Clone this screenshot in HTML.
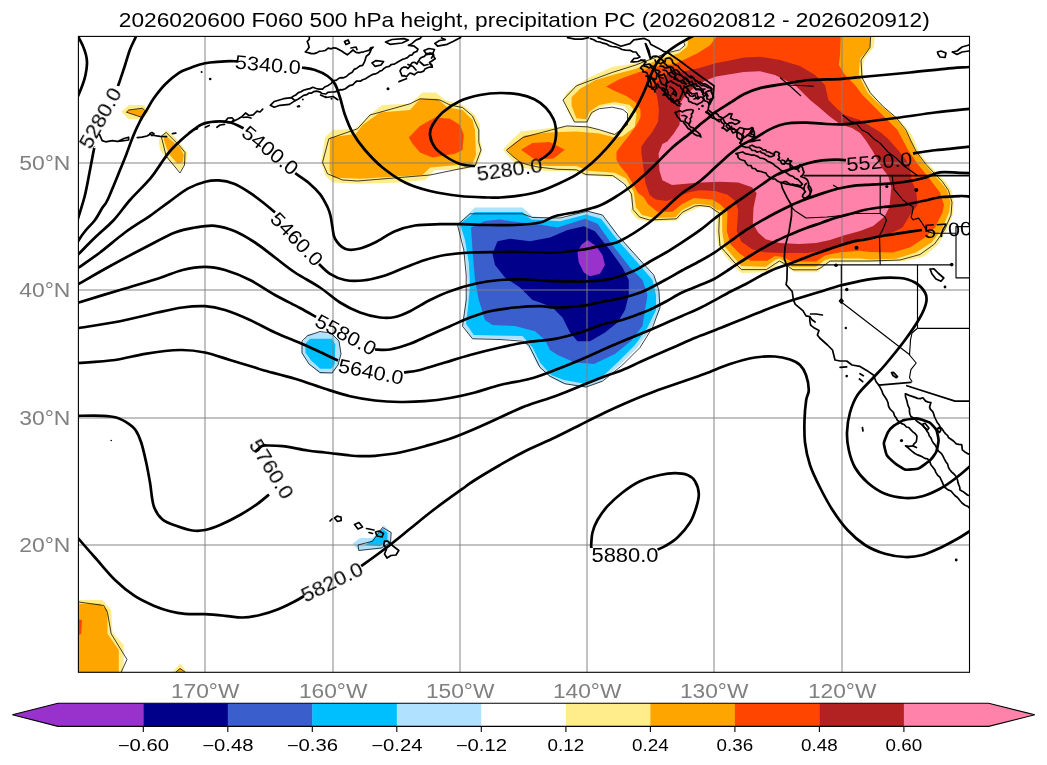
<!DOCTYPE html>
<html><head><meta charset="utf-8"><title>500 hPa height, precipitation PC</title>
<style>html,body{margin:0;padding:0;background:#fff}svg{display:block}text{font-family:"Liberation Sans",sans-serif}</style></head><body>
<svg width="1047" height="765" viewBox="0 0 1047 765">
<rect width="1047" height="765" fill="#fff"/>
<defs><clipPath id="c"><rect x="78.4" y="36.4" width="891.1" height="635.9"/></clipPath></defs>
<g clip-path="url(#c)">
<g stroke="none">
<path d="M121.2,111.8 L128.8,105 L143.8,105 L148.8,111.8 L142.5,119.2 L128.8,119.2Z" fill="#ffec8b"/>
<path d="M126.4,112.2 L128.7,110 L142.5,108.2 L145,110.8 L141.3,117.2Z" fill="#ffa500"/>
<path d="M158.8,140 L166.2,130 L175,137.5 L187.5,152.5 L186.2,162.5 L180,171 L170,162.5 L160,150Z" fill="#ffec8b"/>
<path d="M165,135 L180,147.5 L183.8,155 L182.5,162.5 L177.5,163.8 L168.8,153.8 L163.8,140Z" fill="#ffa500"/>
<path d="M321,162.5 L325,137.5 L332.5,130 L355,128.8 L372.5,112.5 L382.5,105 L410,103.8 L422.5,92.5 L436,92.5 L445,100 L462.5,105 L475,115 L480,125 L480,140 L482.5,150 L477.5,165 L462.5,170 L435,170 L425,180 L400,182.5 L360,183.8 L332.5,182.5 L325,175Z" fill="#ffec8b"/>
<path d="M330,137.5 L356,133.8 L362.5,125 L380,112.5 L410,110 L420,98.8 L437.5,98.8 L447.5,107.5 L462.5,110 L472.5,120 L475,130 L476,155 L472.5,163.8 L430,167.5 L422.5,175 L360,178.8 L332.5,177.5 L329.5,170Z" fill="#ffa500"/>
<path d="M408.8,137.5 L420,126 L435,117.5 L450,118.8 L460,125 L463.8,135 L462.5,150 L455,153.8 L432.5,157.5 L420,152.5 L412.5,143.8Z" fill="#ff4500"/>
<path d="M589.8,77.2 L612.7,66.7 L633.7,63.8 L650,58.5 L667.3,53.5 L679.5,50.6 L685,45 L685.6,30 L876,30 L875,37 L873.8,47.5 L865,57.5 L862.5,67.5 L863.8,80 L872.5,95 L885,107.5 L900,120 L910,132.5 L913.6,138.6 L918,150 L923,157 L929.2,164.5 L937,173 L945.6,181.8 L951.6,190.4 L954,201 L953,214.5 L947,229.8 L937.5,245 L924,256.5 L904,261.3 L877,262.3 L860,262.2 L830,262.2 L823.9,266 L817.7,272.2 L794.8,272.2 L785.6,266 L779.5,263 L776.5,266 L767.3,272.2 L741.3,272.9 L736.7,269.1 L726,256.9 L718.3,246.2 L716.1,230.9 L716.8,214.1 L715.3,211.6 L709.2,207.8 L700,207 L696.4,208.5 L683,214.3 L677.3,220.5 L648.7,222 L637,219 L630.5,211.5 L631.8,205.7 L629.9,193.7 L624.2,182.3 L614.6,177 L584,175.5 L576.4,171.5 L547.8,171 L522.9,168 L511.5,159.8 L502.9,149.8 L511.5,140.2 L521,131.6 L543.9,128.8 L566.9,125.9 L587.9,125.9 L599.3,129.7 L614.6,133.5 L626.8,124.5 L628.3,112.6 L624.5,106.5 L612.5,104.4 L599.3,107.4 L590.7,115.4 L587.9,122 L573.5,122 L567.8,111.6 L563,100 L565.9,93.4 L576.4,84.8Z" fill="#ffec8b"/>
<path d="M595.5,80 L615.3,74.3 L635.2,69 L650.5,62.9 L665.7,57.5 L679.5,52.9 L687.2,46.8 L690.2,30 L870,30 L870,47.5 L860,58.8 L858.8,75 L867.5,92.5 L880,105 L895,117.5 L905,130 L909.8,138.6 L915,150 L924.9,164.5 L933,173.5 L940.4,181.8 L947,190 L950.5,202.5 L949,212.5 L941.5,230 L931.5,242.5 L916,252.5 L896,258.8 L870,259.5 L860,258.4 L830,258.4 L823.9,260.7 L816.2,266.8 L791.7,266.8 L787.2,263 L779.5,258.4 L774.9,259.9 L765.7,266.8 L741.3,266 L732.1,255.3 L724.5,246.2 L722.2,230.9 L722.2,211 L716.8,210.1 L710.7,205.5 L700,204 L694,204.2 L681.7,210.3 L675.6,217.2 L654.2,217.9 L642,214.9 L635.9,207.2 L633.7,191.8 L626,178.4 L614.6,172.7 L587.9,170.8 L576.4,166 L547.8,166 L524.8,164.1 L514.3,157.4 L506.7,149.8 L514.3,143.1 L524.8,135.5 L547.8,132.6 L576.4,131.6 L599.3,133.5 L614.6,137.4 L622.3,136.4 L634.7,126.9 L636.6,113.5 L629.9,104.9 L614.6,102 L599.3,104.9 L589.8,111.6 L586,119.2 L576.4,118.3 L571.6,105.8 L571.6,97.2 L580.2,88.7Z" fill="#ffa500"/>
<path d="M606.1,86.6 L619.9,78.9 L635.2,73.6 L650.5,68.2 L664.2,64.4 L673.4,64.4 L685.6,59 L697.9,52.9 L710.1,45.3 L716.2,36.9 L716.2,30 L841,30 L840,55 L838.8,65 L845,75 L855,85 L862.5,95 L875,107.5 L887.5,120 L897.5,130 L902,138.6 L908,150 L918,164.5 L925,173 L931.8,181.8 L940,192.5 L944,205 L942.5,212.5 L935,227.5 L925,237.5 L910,247.5 L892.5,252.5 L870,252 L860,250.7 L840.7,252.3 L825.4,255.3 L816.2,261.5 L791.7,261.5 L782.6,256.9 L774.9,256.1 L767.3,260.7 L750.5,260.7 L739.8,253.8 L730.6,244.6 L726.8,230.9 L727.5,211.6 L719.9,204 L712.2,199.4 L700,198.6 L694,198.1 L681.7,204.2 L672.6,211.8 L657.3,211.8 L648.1,204.2 L643.5,197 L638,193 L633,184 L627,174 L620,166 L616.5,160 L616.5,151.7 L622.3,144 L629.1,135.5 L636.7,124.8 L640.5,117.2 L640.5,109.5 L635.2,101.9 L626,95.7 L615.3,91.2Z" fill="#ff4500"/>
<path d="M521,149.8 L532.5,143.1 L549.7,142.1 L564.9,149.8 L553.5,158.4 L534.4,159.3Z" fill="#ff4500"/>
<path d="M641.3,146.7 L645.9,140.1 L652,132.4 L658.1,121.7 L658.9,109.5 L657.3,97.3 L653.5,85 L662,78 L673.4,71.3 L681,72 L691.7,69.8 L704,66.7 L716.2,62.9 L730,60.6 L743.7,57.5 L760,56.8 L780,60 L800,66 L815,75 L825,85 L828.4,100 L837.6,109.2 L845.3,115.3 L860,119.9 L870,126 L880,132 L887.8,138.6 L898,150 L906,160 L909.3,164.5 L911,175 L911.9,181.8 L916.2,190.4 L917.5,205 L910,215 L902.5,227.5 L887.5,235 L870,237 L860,238.5 L852.9,240.8 L837.6,246.2 L822.3,250.7 L807,253 L785.6,253 L764.2,252.3 L752,249.2 L741.3,241.6 L736.7,230.9 L738.2,210.1 L735.2,200.9 L727.5,194.8 L715.3,191 L700,190.2 L690,192 L681.7,195 L675.6,198.1 L666.5,201.1 L655.7,199.6 L649.6,195 L645.2,182.3 L643.3,167 L641.4,153.6Z" fill="#b22222"/>
<path d="M679.6,104 L684.1,97.3 L690.2,91.2 L697.9,85 L705.5,80.5 L716.2,76.6 L730,74.3 L743.7,72 L760,71.3 L775,75 L795,85 L810.1,100 L819.3,107.6 L830,116.8 L840.7,124.5 L852,128 L860,133 L865.5,140 L872,150 L877,159 L882,168 L888.4,176.3 L891.3,187.8 L889.4,206.9 L884.6,216.4 L873.2,226 L860,230.9 L843.7,235.5 L830,240 L816.2,243.1 L799.4,243.9 L779.5,243.1 L765.7,239.3 L758.1,232.4 L752.8,223.2 L753.5,207.9 L756.6,193.3 L752,187.2 L738.2,182.6 L719.9,181.8 L700,182.6 L683.4,184 L672,185 L662.4,180.3 L659.5,170.8 L658.6,153.6 L662.4,144 L667.3,141.6 L673.4,134 L679.5,124.8 L680.3,115.6Z" fill="#ff82ab"/>
<path d="M70,600 L102.5,600 L111.2,610 L112.5,632.5 L123.8,645 L123.8,662.5 L121.2,680 L70,680Z" fill="#ffec8b"/>
<path d="M70,603.8 L100,603.8 L107.5,610 L107.5,633.8 L118.8,650 L118.8,680 L70,680Z" fill="#ffa500"/>
<path d="M70,617.5 L82,620 L81.2,633.8 L78.8,635 L70,636Z" fill="#ff4500"/>
<path d="M172.5,672 L180,663.8 L187.5,672Z" fill="#ffec8b"/>
<path d="M176.2,672 L180,668 L184.5,672Z" fill="#ffa500"/>
<path d="M301.3,344.5 L307.7,334.2 L321.5,331.9 L333,334.7 L339.3,341.1 L341,353.7 L338.7,364.1 L333,373.3 L320.3,373.9 L310,365.2 L301.9,353.7Z" fill="#b0e2ff"/>
<path d="M305.4,343.4 L310,338.8 L331.8,338.8 L335.3,344.5 L334.7,364.1 L331.2,368.7 L320.3,368.7 L311.1,360.6 L305.4,352.6Z" fill="#00bfff"/>
<path d="M352.5,543.8 L360,538 L372.5,538 L383.8,525.5 L391.2,532.5 L390,542.5 L382.5,548.8 L358.8,550.5Z" fill="#b0e2ff"/>
<path d="M372.5,540 L382.5,528.8 L387.5,532.5 L387.5,541.2 L380,546.2 L365,545Z" fill="#00bfff"/>
<path d="M457.5,223.8 L475,207.5 L522.5,207.5 L532.5,216.2 L560,218.8 L587.5,211.2 L602.5,215 L620,237.5 L640,260 L655,277.5 L660,295 L660,310 L650,330 L637.5,347.5 L620,365 L600,382.5 L585,387.5 L562.5,383.8 L550,377.5 L537.5,365 L530,350 L522.5,340 L495,338.8 L472.5,338.8 L462.5,325 L465,307.5 L467.5,285 L466,262.5 L462.5,240Z" fill="#b0e2ff"/>
<path d="M460,223.8 L475,212 L522.5,212 L531.2,219.5 L560,221.2 L586,214.5 L601,218.8 L617.5,240 L637.5,262.5 L652.5,280 L656,295 L656,310 L647.5,327.5 L635,345 L617.5,362.5 L600,378.8 L585,383.8 L563.8,380 L551,375 L540,362.5 L532.5,347.5 L522.5,336 L495,335.5 L473.8,335 L466,323.8 L468,307.5 L470,285 L468.8,262.5 L465,240Z" fill="#00bfff"/>
<path d="M471,227.5 L485,221 L500,219.5 L520,222.5 L535,223.8 L557.5,227.5 L585,218.8 L597.5,223.8 L612.5,245 L630,267.5 L642.5,280 L647.5,295 L645,310 L642.5,326 L631,341 L615,354 L594,364 L575,362.5 L557.5,355 L550,350 L545,340 L535,331.2 L515,326 L492.5,325 L485,320 L478.8,300 L475,280 L472.5,250Z" fill="#3a5fcd"/>
<path d="M492.5,253.8 L497.5,241.2 L510,238.8 L530,241.2 L550,237.5 L567.5,230 L583.8,226.2 L595,231.2 L610,250 L622.5,267.5 L628.8,280 L628.8,295 L625,310 L617.5,322.5 L605,332.5 L590,341.2 L577.5,341.2 L570,332.5 L562.5,317.5 L552.5,307.5 L540,302.5 L532.5,300 L520,287.5 L505,277.5 L495,265Z" fill="#00008b"/>
<path d="M577.5,252.5 L581.2,245 L587.5,240 L596.2,246.2 L602.5,255 L605,265 L600,273.8 L590,276.2 L583.8,272.5 L578.8,262.5Z" fill="#9932cc"/>
</g>
<g stroke="#808080" stroke-opacity="0.48" stroke-width="2" fill="none">
<path d="M205,36.4 V672.3"/>
<path d="M333,36.4 V672.3"/>
<path d="M460,36.4 V672.3"/>
<path d="M587,36.4 V672.3"/>
<path d="M714,36.4 V672.3"/>
<path d="M842,36.4 V672.3"/>
<path d="M78.4,163 H969.5"/>
<path d="M78.4,290 H969.5"/>
<path d="M78.4,418 H969.5"/>
<path d="M78.4,545 H969.5"/>
</g>
<g stroke="#000" stroke-width="0.75" fill="none" stroke-linejoin="round">
<path d="M126.4,112.2 L128.7,110 L142.5,108.2 L145,110.8 L141.3,117.2Z"/>
<path d="M161.2,136.2 L166.2,132.5 L180,146.2 L185,152.5 L184.5,165 L180,173 L166.2,156.2Z"/>
<path d="M322.5,162.5 L328.8,138.8 L357.5,128.8 L370,115 L410,103.8 L420,98.8 L440,100 L450,105 L462.5,107.5 L472.5,116 L478.8,130 L478.8,142.5 L481,150 L475,166 L460,168.8 L430,175 L400,177.5 L357.5,181 L342.5,180 L327.5,173.8Z"/>
<path d="M871,30 L870,47.5 L861,60 L862,77.5 L870,92.5 L882.5,106 L896,117.5 L906,130 L911,141 L916,151 L926,164.5 L935,174 L942.5,181.8 L948.5,190.4 L952,202.5 L951,215 L944.5,230 L934.5,244 L920,254.5 L900,260 L870,261 L842.5,261 L830,261 L822,267 L817,269.8 L793,269.8 L786,264.5 L779.5,261 L775.5,263.5 L766.5,269.6 L741.5,269.6 L734,262 L725,251.5 L720,246 L718.8,231 L719.5,213 L716,211 L710,206.7 L700,205.5 L695,206 L682.3,212.3 L676.5,218.8 L649.5,220 L639.5,217 L633,209.5 L631.5,194 L624.5,184 L612.7,175.6 L586,174.6 L576.4,169.8 L557.3,169.3 L538,167 L527,164.5 L521,162.6 L513,156.5 L506.3,150.2"/>
<path d="M506.7,149.8 L523,137.4 L566.9,125.9 L587.9,126.9 L599.3,129.7 L614.6,134.5 L627.5,124.8 L627.5,113.3 L622.9,109.5 L612.2,107.2 L599.3,108.7 L591.7,112.5 L586.9,122 L574.5,122 L563,100 L576.4,85.8 L612,72.5 L635.2,65.2 L667.3,52.9 L679.5,49.9 L684.9,45.3 L683.3,40.7 L687.9,39.2 L690,30"/>
<path d="M78.8,602 L103.8,605.5 L107.5,612.5 L111.2,633.8 L127,659.5 L121.2,672"/>
<path d="M176,672 L180,668.5 L185,672"/>
<path d="M302,341 L307.5,335.8 L320,331.5 L331,333 L339,341 L341,354 L338,365 L332,373 L320,372.5 L309,364 L302,353Z"/>
<path d="M358,545 L372.5,541.2 L382.5,527.5 L391.2,532.5 L390.5,542.5 L381.2,548 L358.8,550.5Z"/>
<path d="M457.5,225 L470,213.8 L522.5,213.8 L532.5,217.5 L560,218 L587.5,211.2 L602.5,215 L617.5,235 L640,260 L653.8,275 L658.8,290 L660,307.5 L652.5,327.5 L640,347.5 L622.5,365 L602.5,381.2 L586.2,387 L565,383.8 L550,376.2 L540,367.5 L528.8,345 L522.5,341.2 L500,339.5 L472.5,338.8 L462.5,326.2 L466.2,300 L466.2,275 L463.8,250Z"/>
</g>
<g stroke="#000" stroke-width="1.15" fill="none" stroke-linejoin="round" stroke-linecap="butt">
<path d="M880.2,175.8 L880.2,213.5 L884.6,216.5 L886.5,220.2 L882.7,229.8 L879.5,235.5 L880.2,264.8"/>
<path d="M789,205 L795,210.7 L806,218 L827,217 L842.6,215.5 L854,213.5 L880.2,213.5"/>
<path d="M787.5,264.8 L952.5,264.8"/>
<path d="M841.3,264.8 L841.3,302 L910,355"/>
<path d="M917.5,264.8 L917.5,328.3"/>
<path d="M917.5,328.3 L975,328.3"/>
<path d="M975,226.6 L956,226.6 L956,277.8 L975,277.8"/>
<path d="M892.3,176.3 L893,183 L894.2,189.7 L898,194 L902.9,200 L908.1,203.9 L913.3,206.9 L912.4,212.1 L911.1,217.3 L913.3,219.8 L918.5,218.1 L921.1,221.6 L923.2,225 L926,229.5 L929,232 L933,233.2 L956,233.2"/>
<path d="M917.5,328.3 L912,333 L910.5,340 L909.5,355 L916.2,363 L910.9,369.7 L909.5,377.7 L912.2,381.7"/>
<path d="M842.5,115 L850,121 L856,123 L862,130 L868,133 L874,139 L880,143 L888,152 L896,158 L904,166 L915,173.8 L918,176"/>
<path d="M780,77.5 L790,86 L801,96"/>
<path d="M787.5,85 L800,85.5 L813.8,86.2"/>
<path d="M833,184.9 L839.1,188.7"/>
</g>
<g stroke="#000" stroke-width="1.7" fill="none" stroke-linejoin="round" stroke-linecap="round">
<path d="M804.4,175.6 L975,175.6"/>
<path d="M878.8,385.1 L910.9,382.4"/>
<path d="M906.8,385.7 L955,401.1 L975,401.1"/>
<path d="M781,182.6 L782.6,188.7 L787.2,197.9 L791.7,205.5 L791.5,216 L789,231.7 L785,247 L784.3,258.4 L787.2,267 L786.9,280 L786.1,284.6 L792.2,291.5 L793.4,299.9 L795.3,304.4 L802.9,310.6 L806,315.9 L809.8,316.7 L809.8,320.5 L810.6,325.1 L814.4,328.1 L819,330.4 L817.4,335 L819.7,338 L827.5,345 L832.5,350 L835,360 L840,361 L846.7,361 L852,365 L860,366.4 L866.7,370.4 L873.4,375 L876.1,381.7 L878.8,385.1"/>
<path d="M810.6,314 L816,314 L822.4,315"/>
<path d="M809.8,316.7 L812,319.8 L815.1,322"/>
<path d="M878.8,385.1 L880.4,387.9 L882,391.1 L882.8,393.8 L885,397 L886.9,400 L888.1,403.1 L888.5,406.1 L890,409 L893.5,412.5 L894.5,415.7 L896.2,418 L897.5,420.5 L899.5,421.8 L901.6,423.6 L904.2,424.5 L906.4,427 L908.8,427.5 L910.9,429.9 L913.2,432.1 L915.3,433.7 L916.9,435.9 L916.7,439.3 L916.2,441.9 L914,443.8 L912.9,445.9 L908.9,446.3 L905.5,445.9 L908.1,447.9 L910.4,449.8 L912.2,451.3 L914.9,453.5 L917.7,454.9 L920.2,455.9 L922.2,456.8 L924.8,458.4 L927.5,458.8 L929.7,461.5 L931,465 L932.9,467.2 L935,470 L935.8,472.4 L937.7,475.3 L939.9,477.2 L941.2,480 L942.3,482.1 L943.5,485.3 L945,487.5 L948.1,489.9 L951,491 L953.3,493.8 L955.1,495.8 L957.5,497.5 L959.7,500.3 L962,503 L965,505.2 L967.5,506.2 L970.1,508.7 L972.8,509.6 L975,512"/>
<path d="M905.5,393.8 L905.5,396.7 L906.8,400.5 L907.4,403.2 L908.1,405.9 L909.5,408.5 L909.4,410.9 L909.8,413.8 L910.9,416.5 L913.6,418.1 L916.2,420.5 L918.4,422.3 L921.6,424.5 L923.1,426.2 L925.3,428.3 L926.9,431.2 L928.4,433 L929.2,435.8 L930.9,437.9 L932.1,440.8 L933.4,443.1 L934.9,444.6 L936.3,447.1 L937.2,449.3 L938.9,451.3 L941.2,453.3 L942.9,455.9 L944.2,458.6 L946,462 L947.6,464.1 L948.6,467.8 L950,470 L951.8,472.1 L954,474 L955.9,476.2 L957.5,480 L958,482.6 L958.7,484.6 L959.7,487 L960,490 L962.8,491.4 L965.2,493.2 L967.5,495 L970.1,495.9 L972.7,497.4 L975,498"/>
<path d="M905.5,393.8 L909.2,395.4 L912.2,396.4 L915.1,397.4 L917.5,398.4 L920.3,398.6 L922.9,397.8 L925.6,401.1 L928.4,402.1 L930.9,402.5 L929.6,407.1 L930.3,409.1 L932.9,411.9 L933.6,413.8 L934.6,417 L936.3,420.5 L937.2,422.5 L939.1,424.8 L940.3,427.2 L942.1,428.9 L943.9,431.8 L945.6,433.9 L947.7,435.6 L948.4,437.5 L951,439.2 L953.5,441 L956.3,443.9 L958.9,444.4 L961.7,444.6 L962,446.9 L962.3,449.9 L965.4,452.3 L968.3,453.9 L972,455 L975,456"/>
<path d="M922.9,424 L925,423.2 L928.9,428 L927.5,429.9 L924,427Z"/>
<path d="M937.6,428.5 L939.5,427.2 L940.9,430 L939.5,432.5 L937.8,431Z"/>
<path d="M840,367.3 L846.7,366.8"/>
<path d="M860,373.7 L863.4,375.7"/>
<path d="M859.4,379 L862.7,381.7"/>
<path d="M862.4,427.5 L863,431"/>
<path d="M891.5,372.6 L893.5,372.4 L897.5,376.6 L896.3,377.7 L893,375.5Z"/>
<path d="M912.9,445.9 L916.5,447.5"/>
<path d="M930,269 L934,268.8 L938,273 L943.8,278 L941,281.2 L936,279 L932,274Z"/>
<path d="M839.5,301 L841.3,299 L843,301 L841.3,303Z"/>
<path d="M937.5,52 L941,51 L946,53 L945,57.5 L940,57 L938,54Z"/>
<path d="M952.5,52 L957,51 L962,47 L969,45 L975,44"/>
<path d="M952.5,52 L957,54.5 L962,52 L969,51"/>
<path d="M330,521 L332,519"/>
<path d="M334.5,518 L337,516.2 L341,517 L341.2,520.5 L337.5,521.5Z"/>
<path d="M354.5,524.5 L359,522.5 L362.5,527 L358,529Z"/>
<path d="M366.5,528.5 L374,530"/>
<path d="M369,532.5 L372.5,533.5"/>
<path d="M375.5,532 L379,531 L383.5,533.5 L382,537 L377,536Z"/>
<path d="M384.5,541.2 L387.5,541 L393,546 L398.8,550.5 L396,555 L391,555.5 L387,558 L384.5,554 L386.5,549 L383.8,545Z"/>
<path d="M99.5,134.5 L102.2,140.6 L105.6,141.8 L112.5,140.6 L117.1,141.4"/>
<path d="M117.7,141.5 L124,138.5 L128.6,137.2 L128.6,140 L122,141Z"/>
<path d="M137.3,137.6 L142,137.2 L147,136 L150,134.2"/>
<path d="M149.8,133.6 L152,132.6 L154,133.8 L152,135.6Z"/>
<path d="M154,135.5 L160,136.3 L166.6,136.6"/>
<path d="M172.4,133.7 L175.8,133.2"/>
<path d="M195,129.5 L197.5,128.8"/>
<path d="M205.4,127.3 L209.2,125.4"/>
<path d="M216.9,127.3 L220,125 L224.5,124.4"/>
<path d="M225.5,121 L228,118 L232,117.8 L234,120 L231,122.5 L227,122.5Z"/>
<path d="M233,121.5 L238,119 L241.7,116.8 L245.5,113 L249,115.5 L253.2,114.9 L257,111.1 L260,112 L262.7,109.2"/>
<path d="M243,117.5 L247,117 L251,118"/>
<path d="M270.3,105.3 L274.2,101.5 L283.7,98.7 L291.4,97.7 L295.2,100.6 L289.4,104.4 L279.9,105.3 L274.2,107.2Z"/>
<path d="M291.4,97.7 L293.2,96.3 L295.7,95 L298.4,92.6 L301.1,91.8 L303.4,90.2 L306.5,89.4 L309.9,88.6 L312.9,87.3 L316.2,88.5 L319.1,89.2 L322.5,89.2 L324.7,87 L328.2,85.4 L331,83.6 L333.9,80.6 L336.5,80.1 L338.8,78.3 L341.3,77.6 L343.5,77.8 L346.4,76.5 L349.2,73.9 L352.2,72.2 L354.1,69.4 L356.9,68.2 L359.9,65.9 L362.6,65.3 L364.6,61.6 L365.5,58.7 L366.3,56.2 L368.9,54.3 L370.2,52 L371.4,48.9 L373.1,47.2 L370.8,47.8 L368.8,50.4 L366.4,51 L363.7,51.8 L361.5,52.2 L358.8,52.9 L355.9,52.4 L353,50 L350,52.6 L347.3,54.8 L344.1,52.8 L341.6,51 L338.3,49.3 L335.8,48.1 L333.5,47.8 L331.3,48.8 L328.2,48.1 L325.3,50.5 L322.5,51 L319.1,51.4 L316.7,52.9 L314,53.6 L311.2,53.6 L309.1,52.9 L305.3,52 L307.6,49.5 L309.1,47.2 L308.4,44.4 L307.2,41.5 L309.3,39.2 L309.3,37 L311,35"/>
<path d="M295.2,100.6 L298,99.3 L301.5,96.9 L303.6,95.4 L306.9,94.6 L309.1,93 L311.3,93.2 L313.6,91.7 L316.7,91.1 L319.6,91.8 L322,93.5 L326,94 L327.8,92.3 L331,92 L334.5,91.8 L337.8,91.1 L340.1,89.6 L342.2,89.9 L345.4,88.7 L347.3,87.3 L349.4,85.7 L352.7,84.9 L355,82.5 L356.8,81 L360.4,81.2 L362.6,79.7 L365.6,78.8 L368.2,76.9 L370.2,75.8 L372.6,74.4 L375.4,73.9 L377.8,72.8 L379.8,71.1 L381.9,70.5 L384.1,68.4 L386.3,67 L389.3,66.3 L391.3,64.5 L394.4,64.1 L397,62.5 L399.1,61.2 L402.3,59.4 L404.6,58.7 L407.4,57.6 L409.7,55.4 L412.3,54.8 L413.7,52.6 L416.8,51.5 L418,49.1 L414.2,46.2 L411.1,45.6 L408.4,45.3 L411.9,43.7 L414.2,41.5 L416.3,39.9 L419.9,38.6 L421.4,36.8 L423.7,35"/>
<path d="M320.6,95 L326,97.5 L333,96.5 L337.8,99.7"/>
<path d="M385.5,42 L392,39.5 L404,38.6 L408.4,40 L402,43 L390,44.3Z"/>
<path d="M372,63 L376,60.6 L383.6,61.5 L381,65 L375,66.3Z"/>
<path d="M344.5,41.5 L348,40 L349.5,43 L346,44.5Z"/>
<path d="M351,48 L356,47 L357,49.5"/>
<path d="M400,71 L401.6,68.2 L404,67 L406.2,67.1 L408,68.5 L409.9,66.4 L410.8,64.5 L412.3,62.5 L414.8,62.4 L417,64 L418,61.8 L419.2,60.2 L419.9,58.7 L421.4,57.5 L424.4,56.4 L425.6,54.8 L427.7,54.3 L430.7,54.2 L433.3,53.9 L433.8,56.6 L435.2,58.7 L433.2,60 L431.9,61.1 L429.4,62.5 L431.8,64.9 L432.3,67.2 L429.8,67 L427,68 L424.9,69.1 L423.7,71.1 L420.5,72.3 L418,72 L415.6,73.6 L414.2,74.9 L412.7,73.9 L410,73 L407.9,75 L406.5,76.8 L404.6,75.7 L402,76 L401,73.3Z"/>
<path d="M424,50.5 L429,48.5 L434.5,49.5 L433,53 L426,53.5Z"/>
<path d="M408,64.5 L413,66.5 L416,70"/>
<path d="M420,62 L424,65.5 L428,64.5"/>
<path d="M399,81.6 L403,80 L406.5,78.7"/>
<path d="M460.6,37.6 L453,41.5 L447.2,44.3 L437.6,46.2 L434.8,43.4 L439.6,40.5 L445.3,39.6 L441.5,38"/>
<path d="M430,53 L433.5,55 L431.5,58"/>
<path d="M430,64 L432,66"/>
<path d="M567.5,37.6 L575,39.2 L582,39.2 L588.5,37.6"/>
<path d="M598.1,37.6 L609.6,41.5 L621,46.2 L630,43.6 L633.8,39.8 L644.3,38.4 L649.1,40.8 L651,44.6 L658.7,48.4 L663.4,51.3 L667.2,52.2 L680,61 L692,70 L703,78 L714,85.7 L713.1,97.1 L710,104"/>
<path d="M590.5,38.6 L593.8,39.7 L596.6,41.5 L600,42 L603.1,43.2 L606.2,43.8 L609.3,45.7 L612,46.5 L615.3,46.8 L619.2,48 L622,49.5 L625.4,50.2 L630,50.3 L633.3,52 L636,52 L637.9,54.8 L640,57 L637.7,58.1 L634,58.5 L631,62 L634,61.8 L638,61.5 L641.1,60.3 L645,60"/>
<path d="M645.3,43.6 L647.6,50.5 L650.5,58.9 L649,50.5 L646,44"/>
<path d="M651,58 L653.3,56.3 L656,56 L658.8,57 L661,58.5 L662.4,60.2 L665,62 L665.6,58.8 L668,58 L670,58.2 L672,60 L672.9,63 L675.3,64.7 L678,66 L679.4,68 L682,70.6 L684,72 L686.2,73.7 L687.3,75.1 L689.6,77.2 L692,78 L693.8,78.2 L695.5,81 L698.1,81.8 L700,82 L702.5,83.8 L705.1,83.9 L707,85 L710,87.2 L712,89 L711.3,91.7 L713,95 L713.1,97.7 L709.7,99.8 L710,103 L709,104.9 L708.5,107.4 L708.1,110 L707,112 L709.3,113.7 L711.2,115.1 L713.1,115.6 L714.8,118.8 L716.6,119.7 L719.3,121.7"/>
<path d="M640.5,68 L642,66 L645,64.5 L646.6,64.5 L649.1,64 L651,65.5 L651.8,68 L652.9,68.7 L655,70 L655.4,71.8 L656.8,73.3 L656.7,76 L656.3,78.7 L654,79.8 L654,81.8 L652.8,79.6 L650,78 L648,75.6 L647,73 L644.7,71.8 L643,72 L642.9,69.9Z"/>
<path d="M651,77 L652.9,78.4 L654.5,79 L654.7,82 L655.5,84.3 L656.5,86 L656.9,88.2 L654.6,90 L655,92 L654.4,89.9 L652,88 L651.5,86.3 L651.1,83.9 L650.5,82 L649.7,79.7Z"/>
<path d="M659.6,75 L662.3,75.1 L664,74 L665.1,76.2 L666.3,79 L667.2,81.6 L665.8,83.8 L665.5,85.7 L662,84 L660.6,81.8 L660,80 L659.2,77.2Z"/>
<path d="M666,84 L667.9,82.3 L671,81 L672.8,82.6 L676,84 L677.5,85.3 L680.2,85.6 L681,88 L682.6,90.1 L682.6,92.1 L681.6,95 L680.4,97.1 L680.3,98.7 L678,100 L675.3,101.5 L674,103 L673.1,101.3 L673.1,99.3 L670.5,98 L670.8,95.8 L668,94.8 L668,92 L666.9,89.8 L666,88.1 L666.9,86Z"/>
<path d="M670,87 L672.8,88.4 L674,90 L673.6,92.6 L672,94 L674.1,94.1 L676,96 L676.5,93.6 L675,91"/>
<path d="M683.5,88 L686.1,86.8 L689,85.7 L691.8,85.5 L693.6,85.8 L695,88 L696.1,89.7 L699.1,89.5 L701,90 L703.4,91.1 L702.7,94.3 L704.5,96 L703.2,97.3 L703.8,99.9 L702,102 L699,103.6 L697,104.8 L694.8,103.5 L692.6,103.1 L691,102 L688.7,101.4 L688.2,98.1 L686.5,97 L685.2,95.1 L684,92 L683.1,90.4Z"/>
<path d="M688,90 L689.8,92 L692,94 L694.2,93.7 L697,93 L697.6,96.1 L699,98 L696.8,98.1 L694,99"/>
<path d="M706,92 L708.7,90.9 L711,90 L711.5,92.3 L713,95 L713.5,97.2 L712.1,99.5 L711,101 L709.1,99.5 L707,99 L706.8,96.5 L705.5,94.5Z"/>
<path d="M660,66 L663,66.4 L665,68 L668.1,67.7 L670,66.5 L672.4,67.3 L674,70 L676.6,69.8 L679,72 L679.5,73.8 L681.4,75.1 L683,77 L685.8,77.9 L688,80 L689.1,82.3 L692.1,81.3 L693,84 L695.8,83.7 L697,86.4 L699,86 L700.8,88.1 L702.7,89.4 L705,89"/>
<path d="M663,70 L666.2,70.7 L668,73 L670.1,75.7 L672,77 L674.4,77.3 L677,79 L678.4,80.9 L680.8,81.4 L682,83 L684.4,83.3 L686,84"/>
<path d="M662,88 L662.1,89.9 L664,91.4 L666,93 L666,95.2 L668,97.7 L670,99 L671.9,101.7 L674.3,101.7 L676,104 L677.5,105.3 L680,106"/>
<path d="M641,60 L643.6,61 L646,62 L644.4,63.5 L644,66 L646.9,66.7 L649,68 L650.8,67 L653,66 L654.6,67.7 L656,70 L658.5,70.4 L660,72 L658.1,73.8 L658,76 L660.2,77.2 L663,78"/>
<path d="M655,60 L656,62.2 L659,63 L661,63.9 L663,62 L664.7,63.6 L666,64.4 L667,66 L670,67.1 L671,69 L671.1,71 L674.4,70.9 L675,73 L677.8,74.2 L680,75 L681.7,76.1 L683.1,76.8 L684,79 L686.3,79 L687.4,81.2 L689,82 L689.6,84.4 L692.6,85 L694,87 L695.8,89.1 L699,89 L701,89.8 L701.8,91.9 L704,93 L706.8,93.9 L708,96"/>
<path d="M657,84 L658.3,85.1 L659,87.3 L661,88 L663.7,88.2 L665,90 L665.1,92.5 L663,95 L666,95.1 L668,97 L668.8,99 L671.4,99.5 L672,101 L674.5,101.4 L677,100 L678.9,101.1 L679.2,103.8 L681,104"/>
<path d="M684,86 L686.2,87.5 L688,89 L687,91.6 L686,93 L688.8,93.3 L689.4,95.6 L691,96 L692.8,96.3 L695,95 L696,97.6 L698,99 L700,97 L702,97 L703.8,99.1 L705,101 L707.8,101.8 L709,104"/>
<path d="M668,74 L669.7,72.9 L672,72 L673.5,74.1 L676,75 L674.9,77 L674,79 L676.8,79.7 L679,81 L680.7,81.5 L683,80 L684.2,81.9 L686,84"/>
<path d="M690,76 L692.1,76.6 L693.6,78.2 L695,80 L697.3,81.2 L698.5,82.9 L700,84 L701.7,85.6 L703.6,85.4 L706,86.5 L707.8,87.6 L711,88"/>
<path d="M646,76 L648.2,77 L647.9,79.3 L650,80 L648.2,82.1 L648,85 L649.5,86.9 L650.7,86.9 L652,89 L652.7,87.8 L655,87"/>
<path d="M675,112.6 L677.3,111.8 L679.9,110.7 L682.5,111.9 L684,111 L685.9,110.4 L688.2,109.8 L691.1,109.5 L693.3,110.3 L692.6,112.8 L691.3,114.1 L691.7,116.7 L690.2,118.7 L690.6,121.1 L689.9,122.5 L688.7,124.8 L690.5,127 L693.3,127.9 L694.6,130.4 L695.9,130.9 L697.9,132.4 L699.9,134.1 L701,137 L698.8,135.6 L696.7,135.6 L694,134 L692,132 L690.2,129.4 L688.3,128.7 L686.9,126.7 L685.6,124.8 L684,123.2 L683.2,121.4 L680.6,121 L679.5,118.7 L677.5,116.9 L676.6,114.8Z"/>
<path d="M682,115.5 L684.8,115.6 L687,117 L685.4,118.8 L685,121.5 L686.8,122.7 L689,124"/>
<path d="M706.1,112.2 L709,114.2 L710.7,116.8 L712.6,118.1 L715.3,118.5 L716.8,119.9 L720,119.7 L722.9,118.3 L724.9,117 L727.5,115.3 L729.3,113.7 L732.1,113.8 L731.4,115.5 L730.6,118.3 L733.2,119.6 L736.7,119.9 L739.8,121.4 L738.3,123.1 L735.2,124.5 L732.1,122.7 L729.1,122.9 L726,126 L728,128.2 L730.6,129.1 L733.7,128.9 L736.7,130.6 L739.8,127.5 L742.4,128.2 L745.9,129.1 L749,129.2 L752,127.5 L753.5,130.6 L750.5,133.6 L753.5,134.8 L755,136.7 L751.8,136.8 L749.9,135.8 L747.4,135.2 L745.3,137 L742.8,138.2 L742.1,140.4 L739.8,142.8"/>
<path d="M720.8,120.2 L721.4,122.4 L724,124 L723.6,127 L722,128 L724.4,128.7 L727,131 L729.3,129 L731.5,126.3 L731.2,128.4 L731.6,130.8 L733,133 L735.9,131.9 L737.6,130.9 L736.9,134.4 L737,137 L738.3,138.5 L741,140 L742.4,137.4 L741.9,135 L743.7,132.1 L743.7,129.4"/>
<path d="M746.8,135.5 L749.3,133.7 L750.1,132.5 L751.4,130 L752.9,127.9 L753.3,130 L754.4,132.8 L754.4,135.5 L753.3,137.8 L752.3,139.7 L749.8,141.6 L752.9,141.4 L756,140.5 L760,140.1"/>
<path d="M709,110.5 L711.6,112.5 L714,113 L716.7,113.8 L718,114.7 L719,116.5 L721.7,117.4 L723.2,118.9 L724,121 L725.5,123.2 L727.8,124.2 L729,125.5 L730.4,127.9 L734,128.5 L736,130.4 L736.8,132 L739,133 L741.4,134.5 L743.3,135.3 L744,137.5 L741.9,138.9 L741,142"/>
<path d="M735.9,153.5 L738,155.2 L738,157.2 L739.8,159.3 L742,160 L744.8,160.7 L745.3,162.1 L746.7,164 L748,165.5 L751,165.6 L752.3,168.4 L755,168.5 L756.7,170.4 L758.2,171.2 L761,171.5 L763.2,172.3 L766.1,173.1 L767,175 L768.4,176.4 L770.8,177.8 L773,179 L775.2,179 L776.9,180.7 L779.5,182 L781.8,182.5 L784.7,181.6 L786.2,181.6 L788.7,183.3 L790.2,184.7 L792.9,184.2 L794.8,184.9 L796.8,184.9 L798.8,185.4 L800.9,185.6 L802.4,184.1 L799.4,181 L797.9,179.4 L795,178.3 L793.3,176.5 L789.7,175.4 L787.2,173.4 L784.8,171.8 L781,170.3 L779.1,168.6 L776.6,166.8 L774.9,165.7 L772.8,163.7 L769.8,162.1 L767.3,161.2 L765.8,159.7 L763.3,158.5 L760.1,158.2 L758.1,156.6 L754.6,155.2 L751.5,155.2 L748.9,154.3 L745.1,153.6 L742.8,152Z"/>
<path d="M739.8,142.8 L741.8,144.8 L742.9,146.5 L745.9,147.4 L748.9,147.3 L750.4,148.5 L752.1,150.3 L755,150.5 L757,152.2 L760.4,151.2 L761.4,152.8 L764.2,153.5 L766.1,155.2 L768,155.7 L769,156.7 L771.9,156.6 L774.3,155.5 L774.3,152.7 L776,151.5 L778.1,152.3 L779.5,153.5 L778.5,155.4 L779.5,157.7 L778,159.6 L780.6,160.9 L781.7,163.7 L784.1,164.2 L785.2,162.7 L787,160.9 L788,158.5 L788.8,160.6 L791.7,161.2 L790.2,162.4 L790.1,164.9 L790.2,167.3 L792.6,168 L795.3,167.8 L797.9,168.8 L799.6,167.1 L800,164.5 L801.5,166.5 L802.6,167.7 L803,170.1 L804,171.9 L802.9,174.9 L800.9,176.5 L802.5,177.3 L804.7,177.9 L807,179.5 L807.8,181 L808.7,183.5 L808.6,185.6"/>
<path d="M808.6,185.6 L810.4,187.2 L811.6,190.2 L810.8,192.1 L810.1,194.8 L809,196.7 L807.4,197.7 L805.5,199.4 L803.5,197.7 L802.4,196.3 L803.3,194 L805.5,191.7 L804.1,190.1 L804,187.5 L805,184.7 L806.5,183.5"/>
<path d="M781,182.6 L783.8,183.3 L786.7,184.2 L790,184.5 L792.5,185.1 L795.9,185.9 L798,186.5 L800.6,187.1 L803,188.7"/>
<path d="M808,187 L809.1,189.3 L810.5,192 L809.7,194.7 L808,196.5 L806.4,197.5 L804,198"/>
<path d="M750,146 L752.1,145.2 L754.9,146.8 L757,147.5 L758.9,147.3 L761.6,148.6 L763,150 L765.6,149.9 L766.5,151.6 L769,152 L771.4,153.3 L774,154.5"/>
<path d="M782,160 L784.4,160.8 L786,163.5 L789.1,163.9 L791,165 L793.2,167.2 L795,169 L797.5,169.4 L799,171.5"/>
</g>
<g fill="#000">
<circle cx="846.7" cy="376.1" r="1.3"/>
<circle cx="901.5" cy="440.6" r="1.6"/>
<circle cx="956.2" cy="560" r="1.4"/>
<circle cx="111.2" cy="440.5" r="0.8"/>
<circle cx="945" cy="287" r="1.4"/>
<circle cx="856.5" cy="247.8" r="2"/>
<circle cx="916.3" cy="190" r="2"/>
<circle cx="886.8" cy="186.5" r="1.6"/>
<circle cx="846.8" cy="289.5" r="1.7"/>
<circle cx="845.8" cy="328" r="1.2"/>
<circle cx="836" cy="265.3" r="1.8"/>
<circle cx="951.7" cy="264.6" r="1.8"/>
<circle cx="299" cy="106.3" r="1.2"/>
<circle cx="302.8" cy="99.6" r="1"/>
<circle cx="325.7" cy="96.7" r="1"/>
<circle cx="331.5" cy="98.7" r="1"/>
<circle cx="201.6" cy="71.9" r="1"/>
<circle cx="210.2" cy="79" r="1.3"/>
<circle cx="388" cy="88.8" r="1.5"/>
<circle cx="297.6" cy="106.4" r="1"/>
<circle cx="702.5" cy="106" r="1.3"/>
<circle cx="706.5" cy="112" r="1.3"/>
<circle cx="699" cy="109" r="1"/>
</g>
<g stroke="#000" stroke-width="2.7" fill="none" stroke-linejoin="round" stroke-linecap="butt">
<path d="M77,33 C77.2,33.7 77.6,35 78.5,37 C79.4,39 81.2,42 82.5,45 C83.8,48 85.2,51.9 86,55 C86.8,58.1 87.1,60.5 87,63.8 C86.9,67.1 86.2,71.5 85.5,75 C84.8,78.5 83.7,81.7 82.5,85 C81.3,88.3 79.4,92.8 78.5,95 C77.6,97.2 77.2,97.5 77,98"/>
<path d="M137,32 C136.8,32.9 136.8,34.2 135.6,37.2 C134.4,40.2 131.7,45.1 129.9,49.7 C128.2,54.3 126.8,59.6 125.1,65 C123.3,70.4 120.6,78.6 119.4,82.1 C118.2,85.6 118.2,85.3 118,86"/>
<path d="M94.5,148 C94.4,148.3 94.5,146.3 93.8,150 C93,153.7 91.5,162.5 90,170 C88.5,177.5 86.9,187.3 85,195 C83.1,202.7 80.1,211.5 78.8,216 C77.5,220.5 77.3,221 77,222"/>
<path d="M76,246 C76.5,245 77.1,242.7 78.8,240 C80.5,237.3 83.3,233.3 86,230 C88.7,226.7 92.2,223.8 95,220 C97.8,216.2 100.4,210.8 102.5,207.5 C104.6,204.2 104.6,206.2 107.5,200 C110.4,193.8 116.9,177.6 120,170 C123.1,162.4 124.1,160.1 126.3,154.4 C128.5,148.7 130.9,141.6 133.2,136 C135.5,130.4 137.8,125.5 140.1,121.1 C142.4,116.7 144.7,113.4 147,109.6 C149.3,105.8 150.9,102.3 154,98 C157.1,93.7 161.3,88.2 165.5,84 C169.7,79.8 175.2,75.3 179.3,72.6 C183.4,69.9 186.6,69.3 190,68 C193.4,66.7 196.7,65.4 200,64.5 C203.3,63.6 205.8,63 210,62.5 C214.2,62 220.4,61.5 225,61.3 C229.6,61.1 235.4,61.3 237.5,61.3"/>
<path d="M302,67.5 C304.2,67.9 310.8,68.6 315,70 C319.2,71.4 324.2,73.7 327.5,76 C330.8,78.3 332.9,80.4 335,84 C337.1,87.6 338.3,92.3 340,97.5 C341.7,102.7 342.9,109.2 345,115 C347.1,120.8 349.2,126.7 352.5,132.5 C355.8,138.3 360,144.2 365,150 C370,155.8 375.8,162.1 382.5,167.5 C389.2,172.9 397.1,178.6 405,182.5 C412.9,186.4 420.8,188.8 430,191 C439.2,193.2 450,194.9 460,196 C470,197.1 483.3,197.2 490,197.5 C496.7,197.8 495.2,197.8 500,197.5 C504.8,197.2 512.6,196.5 519,195.6 C525.4,194.7 531.8,193.7 538.2,191.8 C544.6,189.9 550.9,187.1 557.3,184.2 C563.7,181.3 570.7,178.1 576.4,174.6 C582.1,171.1 586.6,167.6 591.7,163.2 C596.8,158.8 601.9,153.6 607,147.9 C612.1,142.2 617.6,135.2 622.3,128.8 C627,122.4 631.5,115.8 635.2,109.5 C638.9,103.2 641.8,96.8 644.3,91.2 C646.8,85.6 648.5,80.5 650.5,75.9 C652.5,71.3 654.3,67.2 656.6,63.6 C658.9,60 660.9,57.5 664.2,54.5 C667.5,51.5 672.7,47.8 676.5,45.3 C680.3,42.8 684.1,40.9 687.2,39.2 C690.3,37.5 692.5,36.2 695,35 C697.5,33.8 700.8,32.5 702,32"/>
<path d="M76,257 C76.5,256.5 75.6,257.1 78.8,253.8 C82,250.6 89.2,243.1 95,237.5 C100.8,231.9 108,226.2 113.8,220 C119.6,213.8 124,206.8 130,200 C136,193.2 144.8,185 150,178.9 C155.2,172.8 157.6,168.2 160.9,163.6 C164.2,158.9 167,154.6 170.1,151 C173.2,147.4 176.2,144.7 179.3,141.8 C182.4,138.9 184.8,136.6 188.5,133.7 C192.2,130.8 197.2,126.4 201.6,124.4 C206,122.4 210.1,121.9 214.9,121.6 C219.7,121.3 225.4,121.4 230.2,122.5 C235,123.6 241.4,127.3 243.6,128.3"/>
<path d="M295.2,173.2 C297.4,174.8 304.5,179.2 308.6,182.7 C312.7,186.2 316.8,190.1 320,194.2 C323.2,198.3 325.9,203.9 327.7,207.5 C329.4,211.1 329.7,212.5 330.5,215.8 C331.3,219.1 331.8,223.7 332.5,227.5 C333.2,231.3 332.9,235.2 335,238.8 C337.1,242.4 341,247.1 345,248.8 C349,250.5 353.8,249.9 358.8,248.8 C363.8,247.8 369,245.4 375,242.5 C381,239.6 388.3,234 395,231.2 C401.7,228.4 407.5,226.7 415,225.5 C422.5,224.3 432.5,224.4 440,224.2 C447.5,224 451.7,224.1 460,224.2 C468.3,224.3 480.8,224.9 490,225 C499.2,225.1 506.7,225.4 515,225 C523.3,224.6 533.3,224 540,222.5 C546.7,221 548.3,218.1 555,216.2 C561.7,214.3 572.6,212.9 580,211.2 C587.4,209.4 593.5,208 599.3,205.7 C605.1,203.4 608.9,201.1 614.6,197.5 C620.3,193.9 627.3,189.3 633.7,184.2 C640.1,179.1 646.4,173.1 652.8,167 C659.2,160.9 665.5,153.6 671.9,147.9 C678.3,142.2 686.3,136.5 691,132.6 C695.7,128.7 697.3,126.8 700,124.5 C702.7,122.2 704.5,121 707,119 C709.5,117 711.2,115 715.3,112.2 C719.4,109.4 726.8,104.9 731.5,101.9 C736.2,98.9 739,96.5 743.7,94.2 C748.5,91.9 753.1,89.8 760,88.1 C766.9,86.4 776.7,85.1 785,83.8 C793.3,82.5 800.4,80.8 810,80 C819.6,79.2 832.1,79.5 842.5,78.8 C852.9,78.1 861.2,77 872.5,76 C883.8,75 897.9,73.7 910,72.5 C922.1,71.3 935.2,69.7 945,68.8 C954.8,67.9 964,67.4 969,67 C974,66.6 974,66.6 975,66.5"/>
<path d="M76,269.5 C76.5,269.2 74.8,270.3 78.8,267.5 C82.8,264.7 92.3,258.3 100,252.5 C107.7,246.7 116.7,238.6 125,232.5 C133.3,226.4 142.7,220.9 150,215.8 C157.3,210.7 162.7,206.4 169.1,201.8 C175.5,197.2 182.1,191.8 188.2,188.4 C194.2,185.1 200.3,183 205.4,181.7 C210.5,180.4 214,180.1 218.8,180.4 C223.6,180.7 228.9,181.7 234,183.7 C239.1,185.7 244.2,189 249.3,192.3 C254.4,195.6 260.3,200.3 264.6,203.7 C268.9,207.1 273.3,211 275,212.5"/>
<path d="M319,264 C320.8,265.6 325.7,271.1 330,273.8 C334.3,276.5 339.6,278.9 345,280 C350.4,281.1 356.2,281.1 362.5,280.5 C368.8,279.9 375.4,278.4 382.5,276.2 C389.6,274 397.9,270.2 405,267.5 C412.1,264.8 418.3,262.1 425,260 C431.7,257.9 437.5,256.2 445,255 C452.5,253.8 460.8,253 470,252.5 C479.2,252 490.8,252.1 500,252 C509.2,251.9 515.8,251.9 525,252 C534.2,252.1 545.8,252.8 555,252.5 C564.2,252.2 571.7,251.2 580,250 C588.3,248.8 598.3,246.5 605,245 C611.7,243.5 612.7,244.7 620,241 C627.3,237.3 640.7,228.9 648.7,223 C656.7,217.1 662.5,210.6 668,205.7 C673.5,200.8 676.2,197.8 681.5,193.7 C686.8,189.6 694.4,185.4 700,181 C705.6,176.6 710.2,171.9 715.3,167.3 C720.4,162.7 726,157.3 730.6,153.5 C735.2,149.7 738.7,146.9 742.8,144.3 C746.9,141.8 750.9,140.5 755,138.2 C759.1,135.9 763.2,132.8 767.3,130.6 C771.4,128.4 775.4,126.5 779.5,125.2 C783.6,123.9 787.1,123.3 791.7,122.9 C796.3,122.5 801.9,122.5 807,122.6 C812.1,122.7 816.4,123.4 822.3,123.7 C828.2,124 834.1,124.8 842.5,124.3 C850.9,123.8 862.9,122.1 872.5,121 C882.1,119.9 889.6,118.9 900,117.5 C910.4,116.1 923.5,114 935,112.5 C946.5,111 962.3,109.5 969,108.8 C975.7,108 974,108.1 975,108"/>
<path d="M76,285 C76.5,284.8 73.5,286.7 78.8,283.8 C84,280.9 96.5,273.6 107.5,267.5 C118.5,261.4 133.8,253.3 145,247.5 C156.2,241.7 166.7,235.8 175,232.5 C183.3,229.2 188.3,228.6 195,227.5 C201.7,226.4 208.3,225.2 215,225.8 C221.7,226.4 228.3,228.4 235,231.2 C241.7,234 248.3,238.1 255,242.5 C261.7,246.9 268.3,252.5 275,257.5 C281.7,262.5 287.5,267.5 295,272.5 C302.5,277.5 312.5,282.5 320,287.5 C327.5,292.5 333.3,298.3 340,302.5 C346.7,306.7 353.3,310 360,312.5 C366.7,315 374.2,316.8 380,317.5 C385.8,318.2 390,318.1 395,317 C400,315.9 404.2,314 410,311.2 C415.8,308.4 423.3,303.3 430,300 C436.7,296.7 442.5,293.9 450,291.2 C457.5,288.5 466.7,285.7 475,283.8 C483.3,281.9 491.7,280.7 500,280 C508.3,279.3 515.8,279.3 525,279.5 C534.2,279.7 545,280.9 555,281.2 C565,281.5 576.6,281.7 585,281.5 C593.4,281.3 599.4,280.8 605.3,279.9 C611.2,279 615.5,277.7 620.6,276 C625.7,274.3 631,272.3 635.9,269.9 C640.8,267.5 645,264.4 650,261.5 C655,258.6 660.7,255.7 666,252.5 C671.3,249.3 676.3,246 682,242.3 C687.7,238.6 694.7,234 700,230.1 C705.3,226.2 708.9,222.9 714,219 C719.1,215.1 725.3,210.3 730.6,206.4 C735.9,202.5 740.8,199.3 745.9,195.7 C751,192.1 756.1,188.5 761.2,185 C766.3,181.5 771.4,177.6 776.5,174.9 C781.6,172.2 786.6,170.7 791.7,168.8 C796.8,166.9 801.9,164.9 807,163.5 C812.1,162.1 817.2,161.1 822.3,160.4 C827.4,159.8 833.6,159.6 837.6,159.6 C841.6,159.6 844.6,160.1 846,160.2"/>
<path d="M913,153.4 C916.2,152.9 926,151.3 932.4,150.5 C938.8,149.7 945.2,149.2 951.5,148.6 C957.8,147.9 966.1,147 970,146.6 C973.9,146.2 974.2,146.1 975,146"/>
<path d="M76,303.5 C76.5,303.3 71.5,304.8 78.8,302.5 C86.1,300.2 106.9,293.9 120,290 C133.1,286.1 147.1,282.1 157.5,278.8 C167.9,275.5 174.6,272 182.5,270 C190.4,268 197.9,266.8 205,266.8 C212.1,266.8 217.5,267.8 225,270 C232.5,272.2 241.7,275.8 250,280 C258.3,284.2 266.7,290.3 275,295 C283.3,299.7 293.2,304.3 300,308 C306.8,311.7 313.3,315.5 316,317"/>
<path d="M375,349.5 C377.5,349.5 384.2,350.4 390,349.5 C395.8,348.6 403.3,346.2 410,343.8 C416.7,341.4 423.3,337.9 430,335 C436.7,332.1 443.3,329.1 450,326.2 C456.7,323.3 463.3,320 470,317.5 C476.7,315 482.5,312.9 490,311.2 C497.5,309.5 506.7,308.3 515,307.5 C523.3,306.7 533.3,306.2 540,306.2 C546.7,306.2 548.3,307.5 555,307.5 C561.7,307.5 571.7,307.2 580,306.2 C588.3,305.1 598.3,302.5 605,301.2 C611.7,299.9 614.3,299.9 620,298.5 C625.7,297.1 634,294.8 639,293 C644,291.2 645.5,290.2 650,288 C654.5,285.8 660.7,282.4 666,279.5 C671.3,276.6 676.3,273.6 682,270.5 C687.7,267.4 694.7,263.9 700,261 C705.3,258.1 708.9,256.1 714,252.8 C719.1,249.5 725.3,244.8 730.6,241 C735.9,237.2 740.8,233.5 745.9,230.2 C751,226.8 756.1,223.8 761.2,220.9 C766.3,218 771.4,215.2 776.5,212.5 C781.6,209.8 786.6,207.2 791.7,204.9 C796.8,202.6 801.9,200.7 807,198.8 C812.1,196.9 817.2,195.1 822.3,193.4 C827.4,191.7 832.5,190.1 837.6,188.8 C842.7,187.5 848.2,186.5 852.9,185.8 C857.5,185.2 860.2,185.2 865.5,184.9 C870.8,184.6 878.2,184.4 884.6,183.9 C891,183.4 897.3,182.9 903.7,182 C910.1,181.1 917.4,179.6 922.8,178.2 C928.2,176.8 932.5,174.3 936,173.3 C939.5,172.3 939.6,172.2 943.8,172.1 C948,172 956.6,172.6 961,172.8 C965.4,173 967.7,173.1 970,173.2 C972.3,173.3 974.2,173.4 975,173.4"/>
<path d="M76,328.5 C76.5,328.4 71.5,329.2 78.8,328 C86.1,326.8 106.9,323.8 120,321.2 C133.1,318.6 147.1,314.8 157.5,312.5 C167.9,310.2 174.6,308.6 182.5,307.5 C190.4,306.4 197.9,305.8 205,306.2 C212.1,306.6 217.5,307.7 225,310 C232.5,312.3 241.7,316.2 250,320 C258.3,323.8 266.7,328.7 275,332.5 C283.3,336.3 292.5,339.8 300,343 C307.5,346.2 313.7,349.1 320,352 C326.3,354.9 335,359.1 338,360.5"/>
<path d="M404,372.5 C406.7,372.1 413.2,371.7 420,370 C426.8,368.3 436.7,365 445,362.5 C453.3,360 460.8,357.5 470,355 C479.2,352.5 490.8,349.6 500,347.5 C509.2,345.4 515.8,343.9 525,342.5 C534.2,341.1 545.8,340.5 555,338.8 C564.2,337.1 571.7,335 580,332.5 C588.3,330 598.3,325.8 605,323.8 C611.7,321.8 614.3,322.1 620,320.5 C625.7,318.9 634,315.8 639,314 C644,312.2 645.5,311.7 650,309.6 C654.5,307.5 660.7,304.4 666,301.5 C671.3,298.6 676.3,295.2 682,292.5 C687.7,289.8 694.7,287.2 700,285 C705.3,282.8 708.9,281.8 714,279 C719.1,276.2 725.3,271.9 730.6,268.5 C735.9,265.1 740.8,261.7 745.9,258.5 C751,255.3 756.1,252.1 761.2,249.2 C766.3,246.2 771.4,243.4 776.5,240.8 C781.6,238.2 786.6,236.1 791.7,233.9 C796.8,231.7 801.9,229.7 807,227.8 C812.1,225.9 817.2,224.3 822.3,222.5 C827.4,220.7 832.5,218.6 837.6,217.1 C842.7,215.6 848.2,214.5 852.9,213.3 C857.5,212.1 860.2,210.8 865.5,209.7 C870.8,208.6 878.2,207.7 884.6,206.9 C891,206.1 897.3,206 903.7,205 C910.1,204 916.4,202.3 922.8,201 C929.2,199.7 935.5,197.8 941.9,197 C948.3,196.2 956.3,196.1 961,196 C965.7,195.9 967.7,196.5 970,196.7 C972.3,196.9 974.2,196.9 975,197"/>
<path d="M76,363 C76.5,363 72.3,363.5 78.8,363 C85.3,362.5 104,361.5 115,360 C126,358.5 134.2,355.5 145,353.8 C155.8,352.1 170,350.2 180,350 C190,349.8 196.7,350.8 205,352.5 C213.3,354.2 221.7,357.5 230,360 C238.3,362.5 249.6,365.8 255,367.5 C260.4,369.2 255.8,368.1 262.5,370 C269.2,371.9 284.6,375.7 295,378.8 C305.4,381.9 315.8,385.9 325,388.8 C334.2,391.7 341.7,394.2 350,396.2 C358.3,398.1 366.7,399.5 375,400.5 C383.3,401.5 391.7,401.9 400,402 C408.3,402.1 416.7,401.9 425,401.2 C433.3,400.5 441.7,399.4 450,398 C458.3,396.6 466.7,394.7 475,392.5 C483.3,390.3 490.8,387.3 500,385 C509.2,382.7 520.8,381.3 530,378.8 C539.2,376.3 546.7,373.1 555,370 C563.3,366.9 571.7,363.5 580,360 C588.3,356.5 598.3,351.8 605,348.8 C611.7,345.9 614.3,344.7 620,342.3 C625.7,339.9 634,336.6 639,334.5 C644,332.4 645.5,331.8 650,329.9 C654.5,328 660.7,325.3 666,323 C671.3,320.7 676.3,318.4 682,315.9 C687.7,313.4 694.7,310.6 700,308 C705.3,305.4 708.9,303.4 714,300.6 C719.1,297.9 725.3,294.3 730.6,291.5 C735.9,288.7 740.8,286.7 745.9,284 C751,281.3 756.1,278.1 761.2,275.5 C766.3,272.9 771.4,270.4 776.5,268.3 C781.6,266.2 786.6,264.9 791.7,263 C796.8,261.1 801.9,258.8 807,256.9 C812.1,255 817.2,253.3 822.3,251.5 C827.4,249.7 832.5,247.8 837.6,246.2 C842.7,244.5 848.2,242.8 852.9,241.6 C857.5,240.4 860.2,240.3 865.5,239.3 C870.8,238.3 878.2,236.6 884.6,235.5 C891,234.4 897.5,233.5 903.7,232.6 C909.9,231.7 919,230.4 922,230"/>
<path d="M76,415.8 C80.4,415.8 95.8,415.5 102.5,415.8 C109.2,416.1 111.8,416.2 116.2,417.5 C120.6,418.8 125.6,421.7 128.8,423.8 C132,425.9 133.4,426.9 135.5,430 C137.6,433.1 139.4,437.1 141.2,442.5 C143,447.9 144.7,455.8 146.2,462.5 C147.7,469.2 148.7,475.2 150,482.5 C151.3,489.8 151.7,500 153.8,506.2 C155.9,512.4 158.6,516.2 162.5,519.5 C166.4,522.8 172.5,524.4 177.5,526.2 C182.5,528 187.9,529.9 192.5,530.5 C197.1,531.1 200.4,530.9 205,530 C209.6,529.1 214.2,527.5 220,525 C225.8,522.5 233.8,518.5 240,515 C246.2,511.5 252.7,507.2 257.5,503.8 C262.3,500.4 267.1,496.1 269,494.5"/>
<path d="M255,452 C256.2,451 259.9,447.1 262,446 C264.1,444.9 264.1,445.5 267.5,445.5 C270.9,445.5 275.8,445.4 282.5,446.2 C289.2,447 300.4,449.4 307.5,450.5 C314.6,451.6 317.9,451.7 325,452.5 C332.1,453.3 344.2,454.9 350,455.5 C355.8,456.1 355.8,456.1 360,456.2 C364.2,456.2 368.3,456.4 375,455.8 C381.7,455.2 391.7,454.1 400,452.5 C408.3,450.9 416.7,448.5 425,446.2 C433.3,443.9 441.7,441.7 450,438.8 C458.3,435.9 466.7,432.4 475,428.8 C483.3,425.2 491.7,421.3 500,417.5 C508.3,413.7 515.8,409.8 525,406.2 C534.2,402.6 545.8,399.5 555,396.2 C564.2,392.9 571.7,389.5 580,386.2 C588.3,382.9 597.9,378.9 605,376.2 C612.1,373.5 616.7,372.4 622.5,370 C628.3,367.6 634.1,364.7 640,362 C645.9,359.3 651.8,356.7 658,354 C664.2,351.3 671,348.4 677.3,345.7 C683.6,342.9 689.6,340.1 696,337.5 C702.4,334.9 709.1,332.5 715.5,330 C721.9,327.5 728.2,324.9 734.6,322.3 C741,319.7 747.3,317.2 753.7,314.6 C760.1,312.1 766.4,309.4 772.8,307 C779.2,304.6 784.1,302.9 792,300.3 C799.9,297.8 811.6,294.2 820,291.7 C828.4,289.1 833.8,287.1 842.5,285 C851.2,282.9 862.9,280 872.5,278.8 C882.1,277.6 892.9,277.4 900,278 C907.1,278.6 910.8,280.1 915,282.5 C919.2,284.9 923.1,289.2 925,292.5 C926.9,295.8 927,298.3 926.2,302.5 C925.4,306.7 923.5,311.2 920,317.5 C916.5,323.8 910.8,332.1 905,340 C899.2,347.9 890.3,358.7 885,365 C879.7,371.3 877.6,373 873,378 C868.4,383 861.3,389.2 857.5,395 C853.7,400.8 851.8,406.2 850,412.5 C848.2,418.8 847.2,426.2 847,432.5 C846.8,438.8 847.5,444.2 848.8,450 C850.1,455.8 851.9,462.1 855,467.5 C858.1,472.9 862.5,478.1 867.5,482.5 C872.5,486.9 878.8,491.2 885,493.8 C891.2,496.4 898.8,497.6 905,498 C911.2,498.4 916.7,497.7 922.5,496.2 C928.3,494.7 934.6,491.7 940,488.8 C945.4,485.9 950,482.6 955,478.8 C960,475 966.7,469.2 970,466.2 C973.3,463.2 974.2,461.9 975,461"/>
<path d="M76,535 C76.3,535.5 74.8,534.2 78,538 C81.2,541.8 88.8,550.5 95,557.5 C101.2,564.5 108.3,573.5 115,580 C121.7,586.5 128.3,591.8 135,596.2 C141.7,600.6 149.2,603.7 155,606.2 C160.8,608.7 165,609.9 170,611.2 C175,612.5 179.2,613.3 185,613.8 C190.8,614.3 198.3,613.9 205,614.2 C211.7,614.5 218.8,615.2 225,615.8 C231.2,616.3 236.7,617.6 242.5,617.5 C248.3,617.4 254.2,616.3 260,615 C265.8,613.7 271.7,611.8 277.5,609.5 C283.3,607.2 290.6,603.5 295,601.2 C299.4,599 302.5,596.9 304,596"/>
<path d="M361.2,566.2 C365.2,563.3 376.9,555 385,548.8 C393.1,542.6 401.7,535.5 410,528.8 C418.3,522.1 425.8,515.8 435,508.8 C444.2,501.8 458.3,491.8 465,487 C471.7,482.2 469.2,483.7 475,480 C480.8,476.3 491.7,469.8 500,465 C508.3,460.2 515.8,455.8 525,451.2 C534.2,446.6 545.8,441.9 555,437.5 C564.2,433.1 571.7,429.2 580,425 C588.3,420.8 596.7,416.5 605,412.5 C613.3,408.5 621.7,404.8 630,401.2 C638.3,397.6 646.7,394.3 655,391.2 C663.3,388.1 671.7,385.4 680,382.5 C688.3,379.6 696.7,376.9 705,373.8 C713.3,370.7 721.7,366.7 730,364 C738.3,361.3 747.5,358.8 755,357.5 C762.5,356.2 769.2,356.2 775,356.5 C780.8,356.8 785.8,358.1 790,359.5 C794.2,360.9 797.3,362.4 800,365 C802.7,367.6 804.5,370.8 806,375 C807.5,379.2 808.8,385.8 808.8,390 C808.8,394.2 806.9,395 806.2,400 C805.5,405 804.7,412.9 804.5,420 C804.3,427.1 804.1,435 805,442.5 C805.9,450 807.5,457.5 810,465 C812.5,472.5 816.2,480 820,487.5 C823.8,495 827.9,502.9 832.5,510 C837.1,517.1 842.1,524.2 847.5,530 C852.9,535.8 858.8,541 865,545 C871.2,549 878.3,551.8 885,553.8 C891.7,555.8 898.8,556.8 905,557 C911.2,557.2 916.7,556.5 922.5,555 C928.3,553.5 934.2,550.7 940,548 C945.8,545.3 952.5,541.6 957.5,538.8 C962.5,536 967.1,532.8 970,531 C972.9,529.2 974.2,528.5 975,528"/>
<path d="M591.5,548 C591.5,547.5 591,547.6 591.2,545 C591.4,542.4 591.5,536.7 592.5,532.5 C593.5,528.3 595,524.4 597.5,520 C600,515.6 603.3,510.8 607.5,506.2 C611.7,501.6 617.1,496.7 622.5,492.5 C627.9,488.3 633.8,484.1 640,481.2 C646.2,478.3 654.2,476.3 660,475 C665.8,473.7 670.4,473.2 675,473.2 C679.6,473.2 684.2,473.7 687.5,475 C690.8,476.3 693.1,478.1 695,481.2 C696.9,484.3 698.6,489.4 698.8,493.8 C699,498.2 697.7,502.7 696.2,507.5 C694.7,512.3 693.1,517.5 690,522.5 C686.9,527.5 681.7,533.5 677.5,537.5 C673.3,541.5 668.3,544.2 665,546.2 C661.7,548.2 658.8,549 657.5,549.5"/>
<path d="M475,166 C472.5,165.7 465,165.7 460,164 C455,162.3 449.2,158.8 445,156 C440.8,153.2 437.5,151 435,147.5 C432.5,144 430.4,138.8 430,135 C429.6,131.2 430.4,128.8 432.5,125 C434.6,121.2 437.9,116.5 442.5,112.5 C447.1,108.5 453.8,103.9 460,101 C466.2,98.1 473.3,96.3 480,95 C486.7,93.7 493.5,93.1 500,93 C506.5,92.9 513.3,93.4 519,94.4 C524.7,95.4 529.9,97 534.4,99.2 C538.9,101.4 542.6,104.5 545.8,107.8 C549,111.1 551.8,115.8 553.5,119.2 C555.2,122.6 555.4,125.5 555.8,128 C556.2,130.5 556.2,131.7 556.1,134 C556,136.3 555.7,139.3 555,142 C554.3,144.7 553.6,147.6 552.1,149.9 C550.6,152.2 548.1,154.3 546,156 C543.9,157.7 540.5,159.6 539.4,160.3"/>
<path d="M883.9,443.2 C884,441.5 887.3,433.5 888,432.2 C888.7,430.9 892.5,426.8 893.7,425.9 C894.9,425 902.4,420.7 904.1,420.1 C905.8,419.6 914.8,418.2 916.7,418.4 C918.6,418.6 928,421.6 929.4,422.4 C930.8,423.2 935.6,428.6 936.3,429.9 C937,431.2 938.6,438.7 938.6,440.3 C938.6,441.9 936.9,450.4 936.3,451.8 C935.7,453.2 931.9,458.6 930.6,459.8 C929.3,461 920.4,467.8 918.5,468.5 C916.6,469.2 906.9,470 905.2,469.6 C903.5,469.2 896.2,464.4 894.9,463.3 C893.6,462.2 887.6,456.7 886.8,455.2 C886,453.7 883.8,444.9 883.9,443.2Z"/>
</g>
<g fill="#000" font-size="19.6" opacity="0.999">
<text transform="translate(100.3,118) rotate(-61)" text-anchor="middle" y="7" textLength="66" lengthAdjust="spacingAndGlyphs">5280.0</text>
<text transform="translate(268,64.5) rotate(5)" text-anchor="middle" y="7" textLength="66" lengthAdjust="spacingAndGlyphs">5340.0</text>
<text transform="translate(270.3,150.2) rotate(38.7)" text-anchor="middle" y="7" textLength="66" lengthAdjust="spacingAndGlyphs">5400.0</text>
<text transform="translate(297,239) rotate(46)" text-anchor="middle" y="7" textLength="66" lengthAdjust="spacingAndGlyphs">5460.0</text>
<text transform="translate(346,334.5) rotate(28)" text-anchor="middle" y="7" textLength="66" lengthAdjust="spacingAndGlyphs">5580.0</text>
<text transform="translate(371,371.5) rotate(11)" text-anchor="middle" y="7" textLength="66" lengthAdjust="spacingAndGlyphs">5640.0</text>
<text transform="translate(271.6,469) rotate(58.5)" text-anchor="middle" y="7" textLength="66" lengthAdjust="spacingAndGlyphs">5760.0</text>
<text transform="translate(332,582) rotate(-26)" text-anchor="middle" y="7" textLength="66" lengthAdjust="spacingAndGlyphs">5820.0</text>
<text transform="translate(625,555) rotate(0)" text-anchor="middle" y="7" textLength="67" lengthAdjust="spacingAndGlyphs">5880.0</text>
<text transform="translate(509.5,169.5) rotate(-8)" text-anchor="middle" y="7" textLength="66" lengthAdjust="spacingAndGlyphs">5280.0</text>
<text transform="translate(879.3,161.5) rotate(-5)" text-anchor="middle" y="7" textLength="66" lengthAdjust="spacingAndGlyphs">5520.0</text>
<text transform="translate(957,229) rotate(-4)" text-anchor="middle" y="7" textLength="66" lengthAdjust="spacingAndGlyphs">5700.0</text>
</g>
</g>
<rect x="78.4" y="36.4" width="891.1" height="635.9" fill="none" stroke="#000" stroke-width="1.1"/>
<text x="524.3" y="27.4" font-size="20.3" text-anchor="middle" textLength="811" lengthAdjust="spacingAndGlyphs" fill="#000">2026020600 F060 500 hPa height, precipitation PC (2026020812 - 2026020912)</text>
<g fill="#808080" font-size="19.7">
<text x="205.2" y="697.8" text-anchor="middle" textLength="68.5" lengthAdjust="spacingAndGlyphs">170°W</text>
<text x="333.2" y="697.8" text-anchor="middle" textLength="68.5" lengthAdjust="spacingAndGlyphs">160°W</text>
<text x="460.2" y="697.8" text-anchor="middle" textLength="68.5" lengthAdjust="spacingAndGlyphs">150°W</text>
<text x="587.2" y="697.8" text-anchor="middle" textLength="68.5" lengthAdjust="spacingAndGlyphs">140°W</text>
<text x="714.2" y="697.8" text-anchor="middle" textLength="68.5" lengthAdjust="spacingAndGlyphs">130°W</text>
<text x="842.2" y="697.8" text-anchor="middle" textLength="68.5" lengthAdjust="spacingAndGlyphs">120°W</text>
<text x="70.4" y="170.2" text-anchor="end" textLength="51.2" lengthAdjust="spacingAndGlyphs">50°N</text>
<text x="70.4" y="297.2" text-anchor="end" textLength="51.2" lengthAdjust="spacingAndGlyphs">40°N</text>
<text x="70.4" y="425.2" text-anchor="end" textLength="51.2" lengthAdjust="spacingAndGlyphs">30°N</text>
<text x="70.4" y="552.2" text-anchor="end" textLength="51.2" lengthAdjust="spacingAndGlyphs">20°N</text>
</g>
<g stroke="none">
<path d="M12.4,714.8 L57.9,703.3 H143.3 V726.4 H57.9Z" fill="#9932cc"/>
<rect x="143.3" y="703.3" width="84.8" height="23.1" fill="#00008b"/>
<rect x="227.8" y="703.3" width="84.8" height="23.1" fill="#3a5fcd"/>
<rect x="312.3" y="703.3" width="84.8" height="23.1" fill="#00bfff"/>
<rect x="396.8" y="703.3" width="84.8" height="23.1" fill="#b0e2ff"/>
<rect x="481.3" y="703.3" width="84.8" height="23.1" fill="#ffffff"/>
<rect x="565.9" y="703.3" width="84.8" height="23.1" fill="#ffec8b"/>
<rect x="650.4" y="703.3" width="84.8" height="23.1" fill="#ffa500"/>
<rect x="734.9" y="703.3" width="84.8" height="23.1" fill="#ff4500"/>
<rect x="819.4" y="703.3" width="84.8" height="23.1" fill="#b22222"/>
<path d="M903.9,703.3 H988.7 L1034.8,714.8 L988.7,726.4 H903.9Z" fill="#ff82ab"/>
</g>
<path d="M12.4,714.8 L57.9,703.3 H988.7 L1034.8,714.8 L988.7,726.4 H57.9Z" fill="none" stroke="#000" stroke-width="1.1" stroke-linejoin="miter"/>
<g stroke="#000" stroke-width="1.1">
<path d="M143.3,726.9 v5.2"/>
<path d="M227.8,726.9 v5.2"/>
<path d="M312.3,726.9 v5.2"/>
<path d="M396.8,726.9 v5.2"/>
<path d="M481.3,726.9 v5.2"/>
<path d="M565.9,726.9 v5.2"/>
<path d="M650.4,726.9 v5.2"/>
<path d="M734.9,726.9 v5.2"/>
<path d="M819.4,726.9 v5.2"/>
<path d="M903.9,726.9 v5.2"/>
</g>
<g fill="#000" font-size="15.6">
<text x="143.3" y="750.9" text-anchor="middle" textLength="51.3" lengthAdjust="spacingAndGlyphs">−0.60</text>
<text x="227.8" y="750.9" text-anchor="middle" textLength="51.3" lengthAdjust="spacingAndGlyphs">−0.48</text>
<text x="312.3" y="750.9" text-anchor="middle" textLength="51.3" lengthAdjust="spacingAndGlyphs">−0.36</text>
<text x="396.8" y="750.9" text-anchor="middle" textLength="51.3" lengthAdjust="spacingAndGlyphs">−0.24</text>
<text x="481.3" y="750.9" text-anchor="middle" textLength="51.3" lengthAdjust="spacingAndGlyphs">−0.12</text>
<text x="565.9" y="750.9" text-anchor="middle" textLength="36.6" lengthAdjust="spacingAndGlyphs">0.12</text>
<text x="650.4" y="750.9" text-anchor="middle" textLength="36.6" lengthAdjust="spacingAndGlyphs">0.24</text>
<text x="734.9" y="750.9" text-anchor="middle" textLength="36.6" lengthAdjust="spacingAndGlyphs">0.36</text>
<text x="819.4" y="750.9" text-anchor="middle" textLength="36.6" lengthAdjust="spacingAndGlyphs">0.48</text>
<text x="903.9" y="750.9" text-anchor="middle" textLength="36.6" lengthAdjust="spacingAndGlyphs">0.60</text>
</g>
</svg></body></html>
